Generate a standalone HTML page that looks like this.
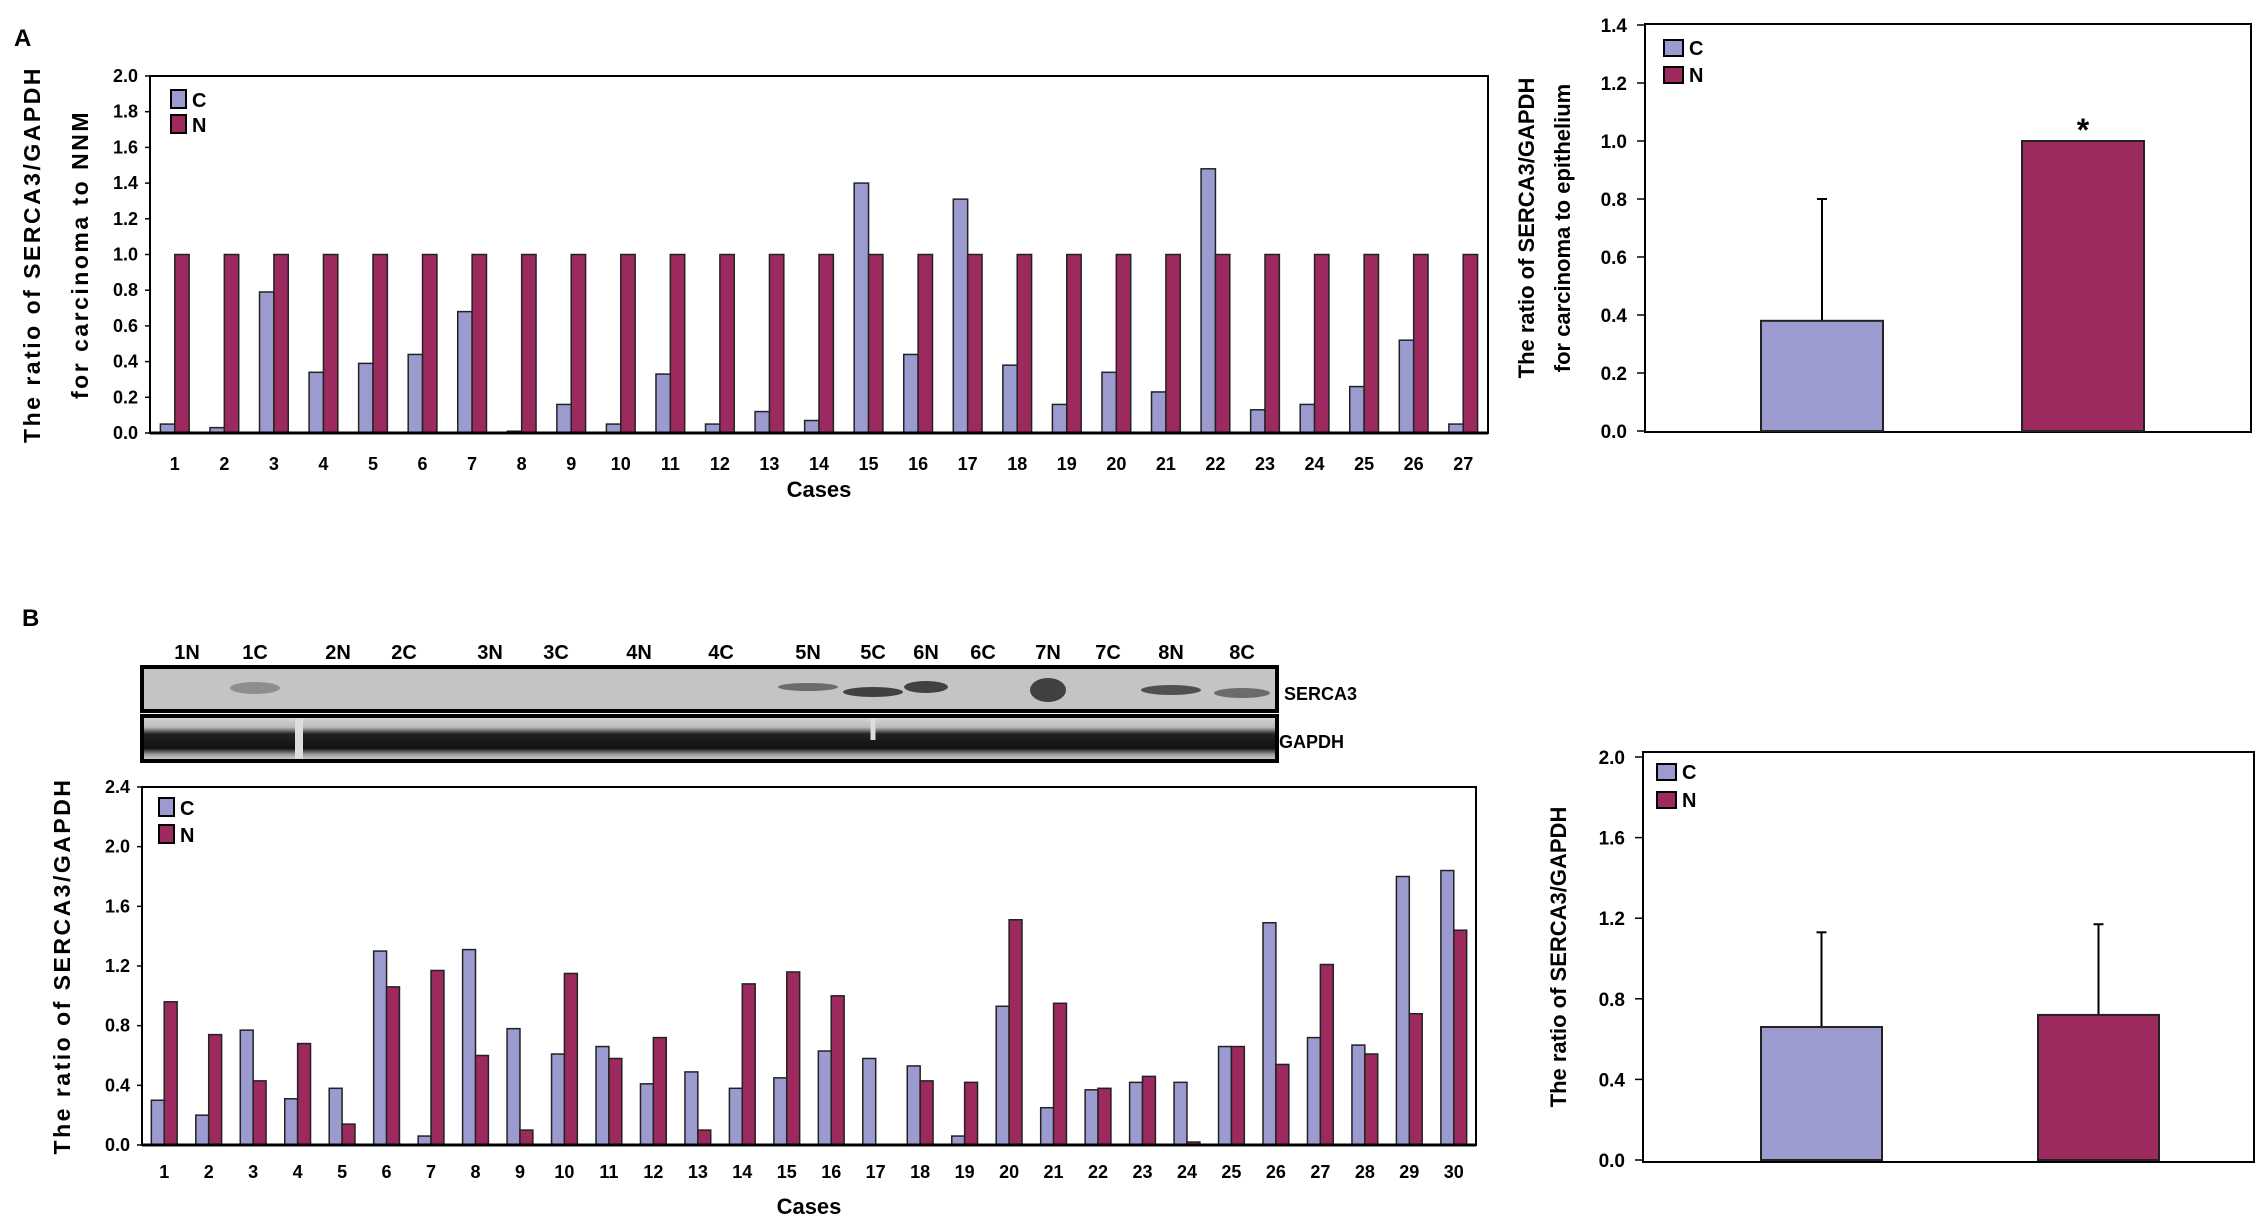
<!DOCTYPE html>
<html><head><meta charset="utf-8"><style>
html,body{margin:0;padding:0;background:#fff;}
svg{display:block;}
text{font-family:"Liberation Sans",sans-serif;font-weight:bold;fill:#000;}
</style></head><body>
<svg id="fig" width="2268" height="1223" viewBox="0 0 2268 1223" xmlns="http://www.w3.org/2000/svg">
<defs>
<linearGradient id="gap" x1="0" y1="0" x2="0" y2="1">
<stop offset="0" stop-color="#d8d8d8"/><stop offset="0.25" stop-color="#bbb"/><stop offset="0.4" stop-color="#222"/><stop offset="0.72" stop-color="#111"/><stop offset="0.85" stop-color="#999"/><stop offset="1" stop-color="#ddd"/>
</linearGradient>
</defs>
<text x="14" y="46" font-size="24">A</text>
<text x="22" y="626" font-size="24">B</text>
<g id="blot">
<rect x="142" y="667" width="1135" height="44" fill="#c4c4c4" stroke="#000" stroke-width="4"/>
<rect x="142" y="716" width="1135" height="45" fill="url(#gap)" stroke="#000" stroke-width="4"/>
<ellipse cx="255" cy="688" rx="25" ry="6" fill="#777" opacity="0.7"/>
<ellipse cx="808" cy="687" rx="30" ry="4" fill="#555" opacity="0.8"/>
<ellipse cx="873" cy="692" rx="30" ry="5" fill="#333" opacity="0.9"/>
<ellipse cx="926" cy="687" rx="22" ry="6" fill="#333" opacity="0.9"/>
<ellipse cx="1048" cy="690" rx="18" ry="12" fill="#333" opacity="0.9"/>
<ellipse cx="1171" cy="690" rx="30" ry="5" fill="#444" opacity="0.9"/>
<ellipse cx="1242" cy="693" rx="28" ry="5" fill="#555" opacity="0.8"/>
<line x1="299" y1="718" x2="299" y2="759" stroke="#ddd" stroke-width="8"/>
<line x1="873" y1="718" x2="873" y2="740" stroke="#ddd" stroke-width="5"/>
<text x="1284" y="700" font-size="18">SERCA3</text>
<text x="1279" y="748" font-size="18">GAPDH</text>
</g>
<g id="lanes"></g>
<g id="chartA"></g>
<g id="chartAR"></g>
<g id="chartB"></g>
<g id="chartBR"></g>
</svg>
<script>
const NS="http://www.w3.org/2000/svg";
const C_COL="#9b9bd0", N_COL="#9c2a5f";
// Panel A case data
const casesA=[1,2,3,4,5,6,7,8,9,10,11,12,13,14,15,16,17,18,19,20,21,22,23,24,25,26,27];
const valsAC=[0.05,0.03,0.79,0.34,0.39,0.44,0.68,0.01,0.16,0.05,0.33,0.05,0.12,0.07,1.40,0.44,1.31,0.38,0.16,0.34,0.23,1.48,0.13,0.16,0.26,0.52,0.05];
const valsAN=[1,1,1,1,1,1,1,1,1,1,1,1,1,1,1,1,1,1,1,1,1,1,1,1,1,1,1];
const ticksA=["0.0","0.2","0.4","0.6","0.8","1.0","1.2","1.4","1.6","1.8","2.0"];
// Panel B case data
const casesB=[1,2,3,4,5,6,7,8,9,10,11,12,13,14,15,16,17,18,19,20,21,22,23,24,25,26,27,28,29,30];
const valsBC=[0.30,0.20,0.77,0.31,0.38,1.30,0.06,1.31,0.78,0.61,0.66,0.41,0.49,0.38,0.45,0.63,0.58,0.53,0.06,0.93,0.25,0.37,0.42,0.42,0.66,1.49,0.72,0.67,1.80,1.84];
const valsBN=[0.96,0.74,0.43,0.68,0.14,1.06,1.17,0.60,0.10,1.15,0.58,0.72,0.10,1.08,1.16,1.00,0,0.43,0.42,1.51,0.95,0.38,0.46,0.02,0.66,0.54,1.21,0.61,0.88,1.44];
const ticksB=["0.0","0.4","0.8","1.2","1.6","2.0","2.4"];
// Summary data
const sumGroups=["C","N"];
const sumAVals=[0.38,1.0];
const sumAErr=[0.42,0];
const ticksAR=["0.0","0.2","0.4","0.6","0.8","1.0","1.2","1.4"];
const sumBVals=[0.66,0.72];
const sumBErr=[0.47,0.45];
const ticksBR=["0.0","0.4","0.8","1.2","1.6","2.0"];
const laneLabels=["1N","1C","2N","2C","3N","3C","4N","4C","5N","5C","6N","6C","7N","7C","8N","8C"];
const laneX=[187,255,338,404,490,556,639,721,808,873,926,983,1048,1108,1171,1242];

function el(tag,attrs,parent,txt){const e=document.createElementNS(NS,tag);for(const k in attrs)e.setAttribute(k,attrs[k]);if(txt!==undefined)e.textContent=txt;parent.appendChild(e);return e;}

const lanes=document.getElementById('lanes');
laneLabels.forEach((l,i)=>{const t=el('text',{x:laneX[i],y:659,'font-size':20,'text-anchor':'middle'},lanes,l);

});

function legend(g,x,y1,y2,w,h,fs){
  const r1=el('rect',{x:x,y:y1,width:w,height:h,fill:C_COL,stroke:'#000','stroke-width':2},g);
  
  
  const t1=el('text',{x:x+w+6,y:y1+h-1,'font-size':fs},g,'C');
  
  
  const r2=el('rect',{x:x,y:y2,width:w,height:h,fill:N_COL,stroke:'#000','stroke-width':2},g);
  
  
  const t2=el('text',{x:x+w+6,y:y2+h-1,'font-size':fs},g,'N');
  
  
}

function caseChart(g,o){
  const {L,R,T,B,y0,yTop,ymax,cats,cv,nv,ticks,titles,titleX,legendPos}=o;
  const band=(R-L)/cats.length;
  const ys=v=>y0-(v/ymax)*(y0-yTop);
  const xs=i=>L+band*(i+0.5);
  const box=el('rect',{x:L,y:T,width:R-L,height:B-T,fill:'none',stroke:'#000','stroke-width':2},g);
  
  
  ticks.forEach(t=>{const v=parseFloat(t);const y=ys(v);
    const tx=el('text',{x:L-12,y:y+6,'font-size':18,'text-anchor':'end'},g,t);
    
    
    el('line',{x1:L-5,x2:L,y1:y,y2:y,stroke:'#000','stroke-width':1.5},g);});
  const bw=band*0.29;
  cats.forEach((c,i)=>{
    const x=xs(i);
    const hc=y0-ys(cv[i]), hn=y0-ys(nv[i]);
    const rc=el('rect',{x:x-bw,y:ys(cv[i]),width:bw,height:hc,fill:C_COL,stroke:'#222','stroke-width':1.5},g);
    
    
    const rn=el('rect',{x:x,y:ys(nv[i]),width:bw,height:hn,fill:N_COL,stroke:'#222','stroke-width':1.5},g);
    
    
    const tl=el('text',{x:x,y:o.tickY,'font-size':18,'text-anchor':'middle'},g,String(c));
    
    
  });
  el('line',{x1:L,x2:R,y1:B,y2:B,stroke:'#000','stroke-width':3},g);
  const xt=el('text',{x:(L+R)/2,y:o.casesY,'font-size':22,'text-anchor':'middle'},g,'Cases');
  
  
  const cy=(T+B)/2;
  titles.forEach((tt,k)=>{const t=el('text',{x:titleX[k],y:cy,'font-size':23,'text-anchor':'middle',transform:`rotate(-90 ${titleX[k]} ${cy})`,'letter-spacing':'2.5'},g,tt);
    
    });
  legend(g,legendPos[0],legendPos[1],legendPos[2],15,18,20);
}

function sumChart(g,o){
  const {L,R,T,B,y0,yTop,ymax,vals,errs,ticks,titles,titleX,barX,bw,legendPos}=o;
  const ys=v=>y0-(v/ymax)*(y0-yTop);
  const box=el('rect',{x:L,y:T,width:R-L,height:B-T,fill:'none',stroke:'#000','stroke-width':2},g);
  
  
  ticks.forEach(t=>{const y=ys(parseFloat(t));
    const tx=el('text',{x:L-18,y:y+7,'font-size':19,'text-anchor':'end'},g,t);
    
    
    el('line',{x1:L-8,x2:L,y1:y,y2:y,stroke:'#000','stroke-width':1.5},g);});
  vals.forEach((v,i)=>{
    const x=barX[i];
    if(errs[i]>0){const e=el('line',{x1:x+bw/2,x2:x+bw/2,y1:ys(v),y2:ys(v+errs[i]),stroke:'#000','stroke-width':2},g);
      
      
      el('line',{x1:x+bw/2-5,x2:x+bw/2+5,y1:ys(v+errs[i]),y2:ys(v+errs[i]),stroke:'#000','stroke-width':2},g);}
    const r=el('rect',{x:x,y:ys(v),width:bw,height:y0-ys(v),fill:i?N_COL:C_COL,stroke:'#222','stroke-width':2},g);
    
    
  });
  const cy=(T+B)/2;
  titles.forEach((tt,k)=>{const t=el('text',{x:titleX[k],y:cy,'font-size':22,'text-anchor':'middle',transform:`rotate(-90 ${titleX[k]} ${cy})`},g,tt);
    
    });
  legend(g,legendPos[0],legendPos[1],legendPos[2],19,16,20);
  return ys;
}

caseChart(document.getElementById('chartA'),{L:150,R:1488,T:76,B:433,y0:433,yTop:76,ymax:2.0,cats:casesA,cv:valsAC,nv:valsAN,ticks:ticksA,
  titles:["The ratio of SERCA3/GAPDH","for carcinoma to NNM"],titleX:[40,88],tickY:470,casesY:497,legendPos:[171,90,115]});
caseChart(document.getElementById('chartB'),{L:142,R:1476,T:787,B:1145,y0:1145,yTop:787,ymax:2.4,cats:casesB,cv:valsBC,nv:valsBN,ticks:ticksB,
  titles:["The ratio of SERCA3/GAPDH"],titleX:[70],tickY:1178,casesY:1214,legendPos:[159,798,825]});
const gAR=document.getElementById('chartAR');
const ysA=sumChart(gAR,{L:1645,R:2251,T:24,B:432,y0:431,yTop:25,ymax:1.4,vals:sumAVals,errs:sumAErr,ticks:ticksAR,
  titles:["The ratio of SERCA3/GAPDH","for carcinoma to epithelium"],titleX:[1534,1570],barX:[1761,2022],bw:122,legendPos:[1664,40,67]});
const star=el('text',{x:2083,y:ysA(sumAVals[1])+0,'font-size':32,'text-anchor':'middle'},gAR,'*');


sumChart(document.getElementById('chartBR'),{L:1643,R:2254,T:752,B:1162,y0:1160,yTop:757,ymax:2.0,vals:sumBVals,errs:sumBErr,ticks:ticksBR,
  titles:["The ratio of SERCA3/GAPDH"],titleX:[1566],barX:[1761,2038],bw:121,legendPos:[1657,764,792]});
</script>
</body></html>
